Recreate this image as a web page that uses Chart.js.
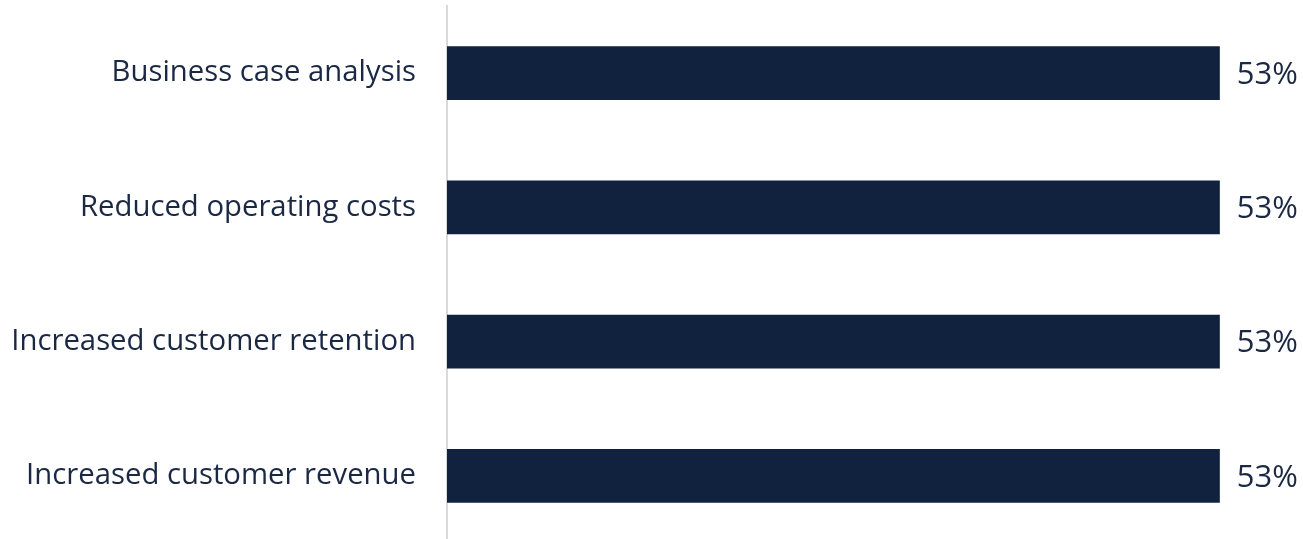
<!DOCTYPE html>
<html>
<head>
<meta charset="utf-8">
<script src="https://cdn.jsdelivr.net/npm/chart.js@4/dist/chart.umd.min.js"></script>
<style>
  html, body { margin: 0; padding: 0; background: #ffffff; overflow: hidden; }
  #wrap { position: relative; width: 1303px; height: 543px; }
</style>
</head>
<body>
<div id="wrap"><canvas id="chart"></canvas></div>
<script>
const categories = [
  "Business case analysis",
  "Reduced operating costs",
  "Increased customer retention",
  "Increased customer revenue"
];
const shares = [53, 53, 53, 53];

const navy = "#11223f";
const textColor = "#1b2844";
const fontFamily = "'Open Sans', 'Noto Sans', sans-serif";

// Writes each bar's percentage just past its end
const valueLabels = {
  id: "valueLabels",
  afterDatasetsDraw(chart) {
    const ctx = chart.ctx;
    const meta = chart.getDatasetMeta(0);
    ctx.save();
    ctx.font = "31px " + fontFamily;
    ctx.fillStyle = textColor;
    ctx.textAlign = "left";
    ctx.textBaseline = "middle";
    meta.data.forEach((bar, i) => {
      ctx.fillText(shares[i] + "%", bar.x + 17, bar.y + 2);
    });
    ctx.restore();
  }
};

new Chart(document.getElementById("chart"), {
  type: "bar",
  data: {
    labels: categories,
    datasets: [{
      data: shares,
      backgroundColor: navy,
      borderWidth: 0,
      categoryPercentage: 0.4,
      barPercentage: 1.0
    }]
  },
  plugins: [valueLabels],
  options: {
    indexAxis: "y",
    responsive: true,
    maintainAspectRatio: false,
    animation: false,
    layout: { padding: { top: 6, right: 54, bottom: 0, left: 0 } },
    plugins: { legend: { display: false }, tooltip: { enabled: false } },
    scales: {
      x: {
        min: 0,
        max: 55,
        display: false
      },
      y: {
        afterFit(scale) {
          scale.width = 447;
          scale.paddingTop = 0;
          scale.paddingBottom = 0;
        },
        grid: { display: false, drawTicks: false },
        border: { display: true, color: "#d9d9d9", width: 2 },
        ticks: {
          color: textColor,
          padding: 31,
          font: { family: fontFamily, size: 29.3 }
        }
      }
    }
  }
});
</script>
</body>
</html>
